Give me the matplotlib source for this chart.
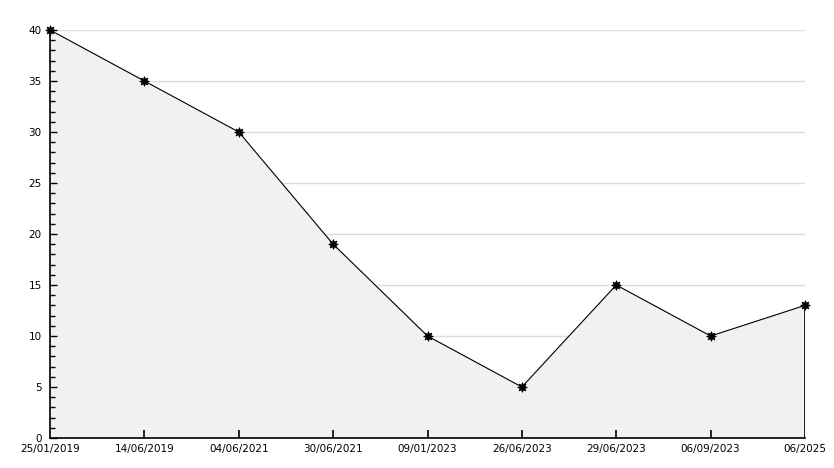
import matplotlib
matplotlib.use('Agg')
import matplotlib.pyplot as plt
from matplotlib.ticker import MultipleLocator

# 数据
dates = ['25/01/2019', '14/06/2019', '04/06/2021', '30/06/2021', '09/01/2023',
         '26/06/2023', '29/06/2023', '06/09/2023', '06/2025']
values = [40, 35, 30, 19, 10, 5, 15, 10, 13]
x = list(range(len(dates)))

fig = plt.figure(figsize=(8.34, 4.68), dpi=100)
ax = fig.add_axes([50 / 834, 1 - 438 / 468, 755 / 834, 408 / 468])

# 网格线（放在填充区域下面）
for yv in range(5, 45, 5):
    ax.axhline(yv, color='#dcdcdc', linewidth=1, zorder=0)

# 填充区域和折线
ax.fill_between(x, values, 0, color='#f1f1f1', zorder=1)
ax.vlines(x[-1], 0, values[-1], color='black', linewidth=1.2, zorder=2)
ax.plot(x, values, color='black', linewidth=0.8, marker=(8, 1, 0), markersize=7,
        markeredgewidth=0.6, zorder=3, clip_on=False)

ax.set_xlim(x[0], x[-1])
ax.set_ylim(0, 40)

ax.set_xticks(x)
ax.set_xticklabels(dates, fontsize=7.5)
ax.yaxis.set_major_locator(MultipleLocator(5))
ax.yaxis.set_minor_locator(MultipleLocator(1))
ax.tick_params(axis='x', direction='in', length=6, width=1.2, pad=4)
ax.tick_params(axis='y', which='major', direction='in', length=5, width=1, labelsize=7.5, pad=6)
ax.tick_params(axis='y', which='minor', direction='in', length=3.5, width=1)

# 两端不画刻度线
xt = ax.xaxis.get_major_ticks()
xt[0].tick1line.set_visible(False)
xt[-1].tick1line.set_visible(False)

for side in ['top', 'right']:
    ax.spines[side].set_visible(False)
ax.spines['left'].set_linewidth(1.2)
ax.spines['bottom'].set_linewidth(1.2)

plt.savefig('out.png', dpi=100)
